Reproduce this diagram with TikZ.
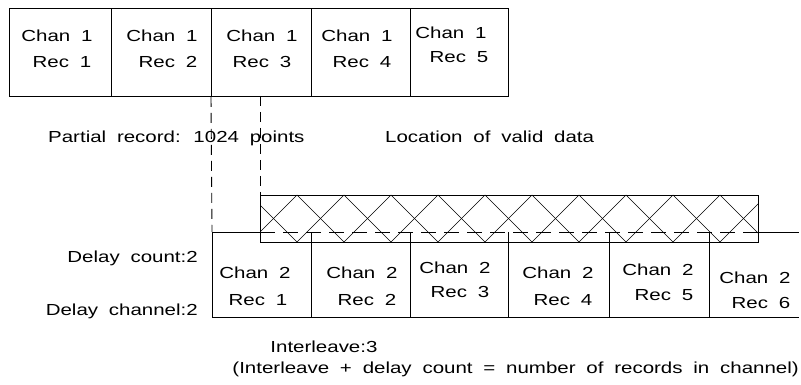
\documentclass[tikz,border=0pt]{standalone}
\usepackage{fontspec}
\setmainfont[FakeStretch=1.28, WordSpace=1.9]{Liberation Sans}
\begin{document}
\begin{tikzpicture}[x=1pt,y=-1pt,
  every node/.style={font=\fontsize{16}{19}\selectfont, inner sep=0pt},
  txt/.style={anchor=base},
  ln/.style={line width=0.9pt},
  cell/.style={draw, ln, minimum height=88pt, anchor=north west},
  dashv/.style={ln, dash pattern=on 10pt off 6pt},
  dashh/.style={ln, dash pattern=on 15pt off 8pt},
  hatchln/.style={line width=0.6pt}]
\useasboundingbox (0,0) rectangle (801,385);
% top row
\node[cell, minimum width=102pt] (a1) at (9,8) {};
\node[cell, minimum width=100pt] (a2) at (111,8) {};
\node[cell, minimum width=100pt] (a3) at (211,8) {};
\node[cell, minimum width=99pt] (a4) at (311,8) {};
\node[cell, minimum width=98pt] (a5) at (410,8) {};
\node[txt] (t1a) at (57,42) {Chan 1};  \node[txt] (t1b) at (62,68) {Rec 1};
\node[txt] (t2a) at (162,42) {Chan 1}; \node[txt] (t2b) at (168,68) {Rec 2};
\node[txt] (t3a) at (262,42) {Chan 1}; \node[txt] (t3b) at (262,68) {Rec 3};
\node[txt] (t4a) at (357,42) {Chan 1}; \node[txt] (t4b) at (362,68) {Rec 4};
\node[txt] (t5a) at (451,39) {Chan 1}; \node[txt] (t5b) at (459,63) {Rec 5};
% bottom row coordinates
\coordinate (b0t) at (212,232); \coordinate (b0b) at (212,317);
\coordinate (h0) at (260,232); \coordinate (h1) at (758,232);
\coordinate (bend) at (799,232); \coordinate (bendb) at (799,317);
% hatched region
\node[draw, ln, minimum width=498pt, minimum height=47pt, anchor=north west] (hatch) at (260,195) {};
\begin{scope}
\clip (hatch.north west) rectangle (hatch.south east);
\foreach \k in {-2,...,11} {
  \draw[hatchln] (250+47*\k,195) -- (297+47*\k,242);
  \draw[hatchln] (297+47*\k,195) -- (250+47*\k,242);
}
\end{scope}
% bottom row lines
\draw[ln] (b0b) -- (b0t) -- (h0);
\draw[dashh] (h0) -- (h1);
\draw[ln] (h1) -- (bend);
\draw[ln] (b0b) -- (bendb);
\foreach \x in {311,410,508,609,709} \draw[ln] (\x,232) -- (\x,317);
\node[txt] (u1a) at (255,278) {Chan 2}; \node[txt] (u1b) at (258,305) {Rec 1};
\node[txt] (u2a) at (362,278) {Chan 2}; \node[txt] (u2b) at (367,305) {Rec 2};
\node[txt] (u3a) at (455,273) {Chan 2}; \node[txt] (u3b) at (460,297) {Rec 3};
\node[txt] (u4a) at (558,278) {Chan 2}; \node[txt] (u4b) at (563,305) {Rec 4};
\node[txt] (u5a) at (658,275) {Chan 2}; \node[txt] (u5b) at (664,300) {Rec 5};
\node[txt] (u6a) at (755,283) {Chan 2}; \node[txt] (u6b) at (761,308) {Rec 6};
% dashed verticals
\draw[dashv] (a3.south west) -- (b0t);
\draw[dashv] (260,96) -- (hatch.north west);
% labels
\node[anchor=base west] (lp) at (48,143) {Partial record: 1024 points};
\node[anchor=base west] (lv) at (385,143) {Location of valid data};
\node[anchor=base east] (ld) at (198,262) {Delay count:2};
\node[anchor=base east] (lc) at (198,315) {Delay channel:2};
\node[anchor=base east] (lf) at (799,373) {(Interleave + delay count = number of records in channel)};
\node[anchor=base west] (li) at ([xshift=38pt]lf.base west |- 0,352) {Interleave:3};
\end{tikzpicture}
\end{document}
